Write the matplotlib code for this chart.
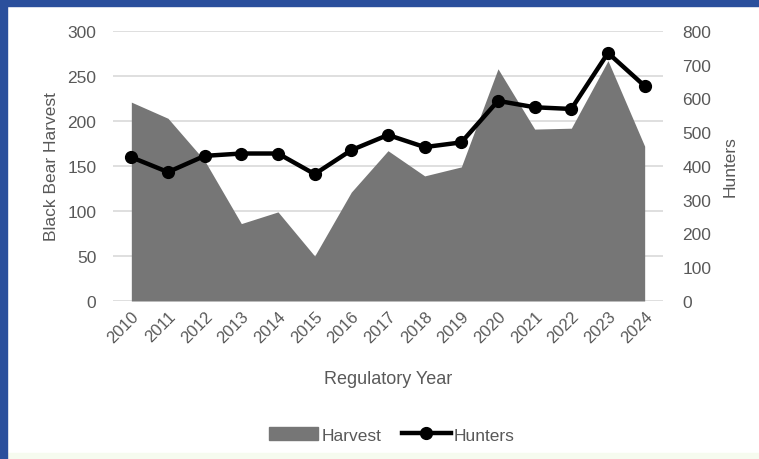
import numpy as np
import matplotlib.pyplot as plt
from matplotlib.patches import Rectangle
from matplotlib.lines import Line2D
from matplotlib.patches import Patch

# Daten
years = ['2010', '2011', '2012', '2013', '2014', '2015', '2016', '2017',
         '2018', '2019', '2020', '2021', '2022', '2023', '2024']
harvest = [221, 203, 156, 86, 99, 50, 121, 167, 139, 149, 258, 191, 192, 267, 172]
hunters = [426, 382, 430, 437, 437, 376, 447, 492, 456, 470, 593, 574, 569, 735, 637]

plt.rcParams['font.family'] = ['Liberation Sans', 'DejaVu Sans']
grey = '#595959'
narrow = ['Liberation Sans Narrow', 'Liberation Sans', 'DejaVu Sans']

fig = plt.figure(figsize=(7.59, 4.60), dpi=100)
ax = fig.add_axes([113/759, 1 - 302/460, 550/759, 270/460])
ax2 = ax.twinx()

x = np.arange(len(years))
ax.fill_between(x, harvest, 0, color='#767676', lw=0, zorder=2)
ax2.plot(x, hunters, color='black', lw=3.2, marker='o', ms=8.5, zorder=3)

ax.set_xlim(-0.5, len(years) - 0.5)
ax.set_ylim(0, 300)
ax.set_yticks(np.arange(0, 301, 50))
ax2.set_ylim(0, 800)
ax2.set_yticks(np.arange(0, 801, 100))

ax.yaxis.grid(True, color='#d9d9d9', lw=1.2, zorder=0)
ax.set_axisbelow(True)
for a in (ax, ax2):
    for s in a.spines.values():
        s.set_visible(False)
    a.tick_params(length=0, labelsize=12.5, labelcolor=grey)
ax.tick_params(axis='y', pad=12)
ax2.tick_params(axis='y', pad=14)

ax.set_xticks(x)
ax.set_xticklabels(years, rotation=45, ha='right', va='top', rotation_mode='anchor')
ax.tick_params(axis='x', pad=5, labelsize=12)

ax.set_ylabel('Black Bear Harvest', fontsize=12.5, color=grey, labelpad=6)
ax2.set_ylabel('Hunters', fontsize=12.5, color=grey, labelpad=8)
fig.text(388/759, 1 - 380/460, 'Regulatory Year', fontsize=13, color=grey,
         family=narrow, ha='center', va='center')

handles = [Patch(color='#767676', label='Harvest'),
           Line2D([], [], color='black', lw=3.2, marker='o', ms=8.5, label='Hunters')]
fig.legend(handles=handles, loc='center', bbox_to_anchor=(392/759, 1 - 436/460),
           ncol=2, frameon=False, prop={'family': narrow, 'size': 12.5},
           labelcolor=grey, handlelength=2.8, handletextpad=0.2, columnspacing=1.2)

# Rahmen
fig.patches.append(Rectangle((0, 0), 7/759, 1, transform=fig.transFigure,
                             color='#2a4f9c', zorder=10))
fig.patches.append(Rectangle((0, 1 - 7/460), 1, 7/460, transform=fig.transFigure,
                             color='#2a4f9c', zorder=10))
fig.patches.append(Rectangle((7/759, 0), 1, 6/460, transform=fig.transFigure,
                             color='#f6fbef', zorder=9))

fig.savefig('out.png', dpi=100)
